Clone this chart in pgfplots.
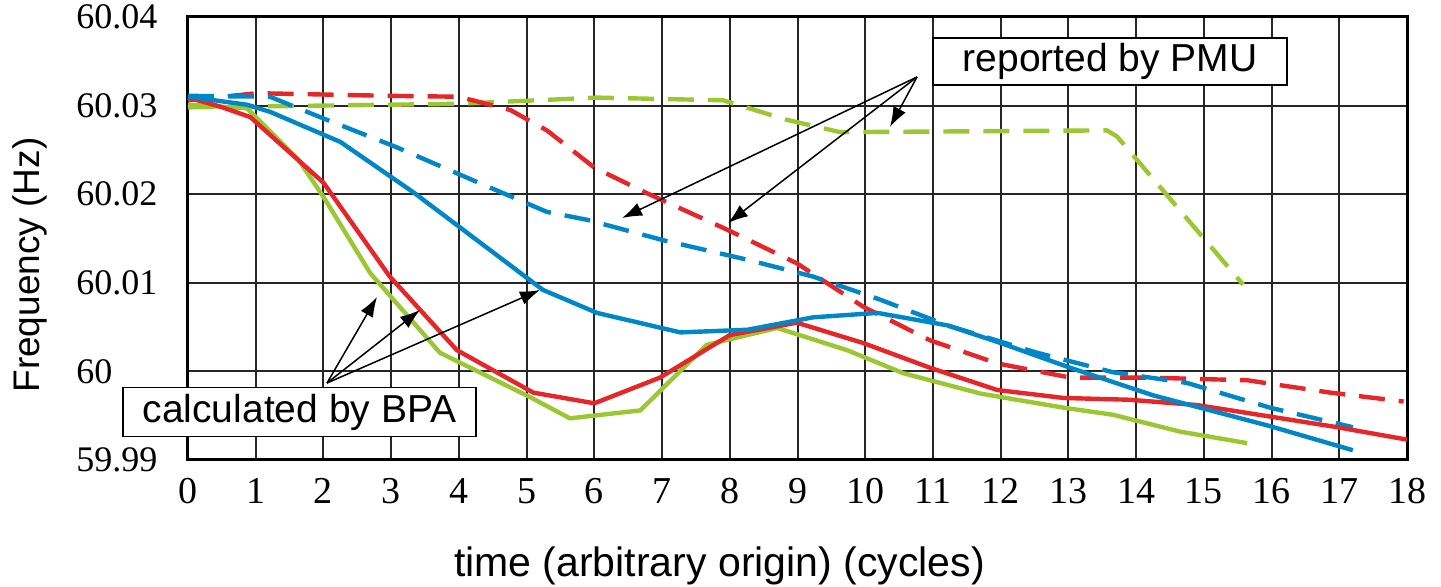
\documentclass[border=0pt]{standalone}
\usepackage{fontspec}
\setmainfont{Liberation Serif}
\newfontfamily\arialfont{Liberation Sans}
\usepackage{pgfplots}
\pgfplotsset{compat=1.18}
\usetikzlibrary{arrows.meta}

\definecolor{cred}{RGB}{230,38,40}
\definecolor{cblue}{RGB}{0,135,200}
\definecolor{cgreen}{RGB}{155,200,50}

\begin{document}
\begin{tikzpicture}
\begin{axis}[
  scale only axis, width=609.5pt, height=221.5pt,
  xmin=0, xmax=18, ymin=59.99, ymax=60.04,
  xtick={0,1,...,18},
  ytick={59.99,60,60.01,60.02,60.03,60.04},
  yticklabels={59.99,60,60.01,60.02,60.03,60.04},
  grid=major, major grid style={line width=1pt, draw=black!85},
  major tick length=0pt,
  axis line style={line width=1.5pt},
  /pgf/number format/assume math mode=true,
  xticklabel style={font=\fontsize{19}{19}\selectfont, anchor=north, inner sep=0pt, yshift=-9pt},
  yticklabel style={font=\fontsize{18}{18}\selectfont, anchor=west, inner sep=0pt, xshift=-56pt},
  xlabel={time (arbitrary origin) (cycles)},
  ylabel={Frequency (Hz)},
  xlabel style={font=\arialfont\fontsize{20.5}{22}\selectfont,
    at={(axis description cs:0.436,-0.239)}, anchor=center},
  ylabel style={font=\arialfont\fontsize{18.5}{20}\selectfont,
    at={(axis description cs:-0.13,0.44)}, anchor=center},
  clip=false,
  every axis plot/.append style={line width=2.2pt, line join=round},
  dashline/.style={dash pattern=on 13pt off 7pt},
]
% reported by PMU (dashed)
\addplot[cgreen, dashline] coordinates {
  (0,60.0298)(3.97,60.0302)(6.04,60.0309)(7.9,60.0306)(8.84,60.0284)
  (9.63,60.0270)(13.57,60.0272)(13.72,60.0265)(15.58,60.0098)
};
\addplot[cred, dashline] coordinates {
  (0,60.0306)(1.02,60.0314)(2.98,60.0311)(4.0,60.0310)(4.76,60.0295)
  (5.3,60.0272)(6.0,60.0230)(6.78,60.0201)(7.96,60.0160)(8.99,60.0122)
  (9.97,60.0073)(10.96,60.0035)(11.95,60.0009)(13.03,59.9993)(14.16,59.9993)
  (15.64,59.9990)(16.87,59.9976)(17.95,59.9966)
};
\addplot[cblue, dashline] coordinates {
  (0,60.0311)(1.21,60.0310)(1.95,60.0287)(3.08,60.0253)(4.2,60.0216)
  (5.3,60.0180)(5.9,60.0171)(7.02,60.0148)(8.26,60.0126)(9.23,60.0107)
  (10.22,60.0081)(11.21,60.0052)(12.54,60.0021)(13.66,59.9999)(14.75,59.9987)
  (15.98,59.9959)(17.2,59.9937)
};
% calculated by BPA (solid)
\addplot[cgreen] coordinates {
  (0,60.0301)(0.87,60.0297)(1.63,60.0239)(2.0,60.0197)(2.69,60.0111)
  (3.72,60.0021)(5.05,59.9971)(5.64,59.9947)(6.68,59.9956)(7.66,60.0030)
  (8.7,60.0049)(9.73,60.0024)(10.56,59.9998)(11.7,59.9975)(12.93,59.9959)
  (13.66,59.9951)(14.65,59.9932)(15.64,59.9919)
};
\addplot[cred] coordinates {
  (0,60.0309)(0.47,60.0299)(0.92,60.0287)(2.0,60.0213)(2.98,60.0107)
  (3.97,60.0024)(5.1,59.9976)(6.0,59.9964)(6.97,59.9993)(8.0,60.0041)
  (8.99,60.0055)(9.97,60.0032)(10.96,60.0004)(11.95,59.9979)(12.93,59.9970)
  (13.9,59.9968)(14.9,59.9962)(15.98,59.9949)(16.97,59.9937)(18,59.9923)
};
\addplot[cblue] coordinates {
  (0,60.0310)(0.87,60.0301)(1.21,60.0293)(2.25,60.0259)(3.33,60.0202)
  (4.06,60.0160)(5.24,60.0092)(6.04,60.0066)(7.27,60.0044)(8.26,60.0047)
  (9.23,60.0061)(10.18,60.0066)(11.21,60.0052)(12.0,60.0032)(13.03,60.0004)
  (14.25,59.9973)(15.94,59.9939)(17.2,59.9911)
};

% annotations
\node[draw=black, line width=0.8pt, fill=white, minimum width=177pt, minimum height=23.5pt,
  inner sep=0pt, font=\arialfont\fontsize{19.5}{20}\selectfont]
  at (axis cs:13.615,60.03498) {reported by PMU};
\node[draw=black, line width=0.8pt, fill=white, minimum width=176.5pt, minimum height=24.5pt,
  inner sep=0pt, font=\arialfont\fontsize{19.5}{20}\selectfont]
  at (axis cs:1.646,59.99542) {calculated by BPA};
\begin{scope}[line width=0.75pt, -{Latex[length=10pt,width=7pt]}]
  \draw (axis cs:10.765,60.03323) -- (axis cs:6.409,60.01731);
  \draw (axis cs:10.765,60.03323) -- (axis cs:7.974,60.01675);
  \draw (axis cs:10.765,60.03323) -- (axis cs:10.366,60.02759);
  \draw (axis cs:2.053,59.99869) -- (axis cs:2.791,60.0084);
  \draw (axis cs:2.053,59.99869) -- (axis cs:3.426,60.00693);
  \draw (axis cs:2.053,59.99869) -- (axis cs:5.198,60.00919);
\end{scope}
\end{axis}
\pgfresetboundingbox
\path[use as bounding box] (-94pt,-63.5pt) rectangle (626.5pt,230pt);
\end{tikzpicture}
\end{document}
